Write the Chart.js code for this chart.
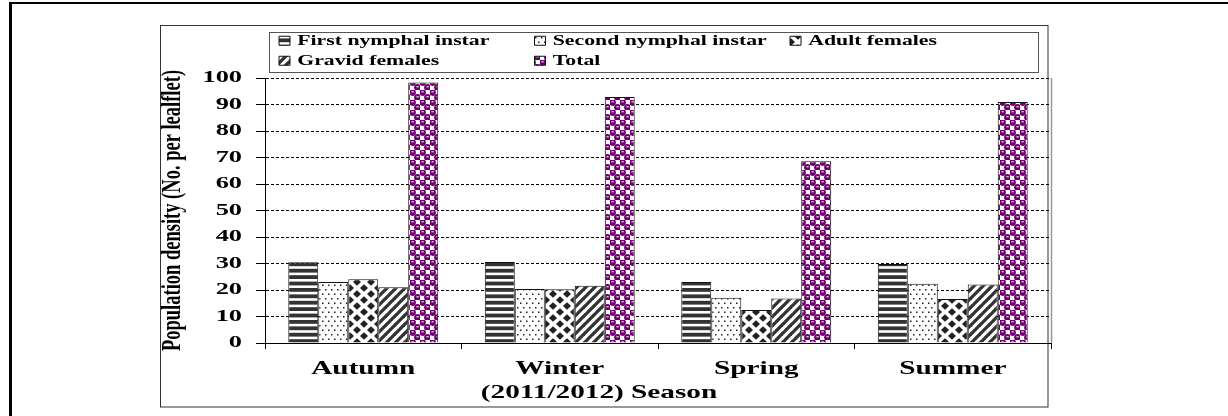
<!DOCTYPE html>
<html>
<head>
<meta charset="utf-8">
<script src="https://cdn.jsdelivr.net/npm/chart.js@4.4.1/dist/chart.umd.min.js"></script>
<style>
html,body{margin:0;padding:0;background:#fff;}
canvas{display:block;}
</style>
</head>
<body>
<canvas id="c" width="1228" height="416"></canvas>
<script>
// ---------- data ----------
const categories = ['Autumn', 'Winter', 'Spring', 'Summer'];
const seriesNames = ['First nymphal instar', 'Second nymphal instar', 'Adult females', 'Gravid females', 'Total'];
const firstNymphal = [30.5, 30.6, 23.0, 29.8];
const secondNymphal = [23.0, 20.4, 17.1, 22.4];
const adultFemales = [24.1, 20.3, 12.5, 16.6];
const gravidFemales = [21.0, 21.6, 16.8, 22.1];
const totalCounts = [98.3, 92.8, 68.6, 90.9];
const yTicks = [0, 10, 20, 30, 40, 50, 60, 70, 80, 90, 100];
const yTitle = 'Population density (No. per lealflet)';
const xTitle = '(2011/2012) Season';

// ---------- text styling helpers (horizontally widened serif text) ----------
const SERIF = '"Liberation Serif", "Times New Roman", serif';
const STRETCH = { '17': 1.55, '18.5': 1.5, '19.5': 1.5, '14.5': 1.5 };
const LEGEND_SIZE = '14.5';
const LEGEND_SLOT = 255.5;      // column pitch of legend entries
const LEGEND_PAD = 5.5;
const LEGEND_BOX_W = 11;
const LEGEND_TEXT_MIN = LEGEND_SLOT - LEGEND_PAD - LEGEND_BOX_W - 14.5 / 2;

const canvas = document.getElementById('c');
const ctx = canvas.getContext('2d');
function fontSizeOf(f) { const m = /([\d.]+)px/.exec(f); return m ? m[1] : ''; }
const origFill = ctx.fillText;
const origMeasure = ctx.measureText;
ctx.fillText = function (text, x, y, maxWidth) {
  const sx = STRETCH[fontSizeOf(this.font)] || 1;
  if (sx === 1) {
    return maxWidth === undefined ? origFill.call(this, text, x, y) : origFill.call(this, text, x, y, maxWidth);
  }
  const T = this.getTransform();
  const p = T.transformPoint(new DOMPoint(x, y));
  this.save();
  this.setTransform(new DOMMatrix().translate(p.x, p.y).scale(sx, 1).translate(-p.x, -p.y).multiply(T));
  origFill.call(this, text, x, y);
  this.restore();
};
ctx.measureText = function (text) {
  const m = origMeasure.call(this, text);
  const fs = fontSizeOf(this.font);
  const sx = STRETCH[fs] || 1;
  let w = m.width * sx;
  if (fs === LEGEND_SIZE) w = Math.max(w, LEGEND_TEXT_MIN);
  return {
    width: w,
    actualBoundingBoxAscent: m.actualBoundingBoxAscent,
    actualBoundingBoxDescent: m.actualBoundingBoxDescent,
    actualBoundingBoxLeft: m.actualBoundingBoxLeft * sx,
    actualBoundingBoxRight: m.actualBoundingBoxRight * sx
  };
};

// ---------- fill patterns ----------
function makePattern(w, h, draw) {
  const c = document.createElement('canvas');
  c.width = w; c.height = h;
  const g = c.getContext('2d');
  g.fillStyle = '#fff';
  g.fillRect(0, 0, w, h);
  draw(g, w, h);
  return ctx.createPattern(c, 'repeat');
}
const patStripes = makePattern(8, 32, (g, w) => {
  g.fillStyle = '#333';
  for (let k = 0; k < 5; k++) g.fillRect(0, k * 6.4, w, 3.8);
});
const patDots = makePattern(6, 9, (g) => {
  g.fillStyle = '#222';
  g.fillRect(1, 1, 1.5, 1.5);
  g.fillRect(4, 5.5, 1.5, 1.5);
});
const patDiamonds = makePattern(14, 12, (g, w, h) => {
  g.fillStyle = '#222';
  const hw = 4.0, hh = 3.8;
  const pts = [[w / 2, h / 2], [0, 0], [w, 0], [0, h], [w, h]];
  pts.forEach(([cx, cy]) => {
    g.beginPath();
    g.moveTo(cx, cy - hh); g.lineTo(cx + hw, cy); g.lineTo(cx, cy + hh); g.lineTo(cx - hw, cy);
    g.closePath(); g.fill();
  });
});
const patDiagonal = makePattern(9, 9, (g) => {
  g.strokeStyle = '#333';
  g.lineWidth = 3.3;
  for (let k = -1; k <= 1; k++) {
    g.beginPath(); g.moveTo(k * 9 - 1, 10); g.lineTo(k * 9 + 10, -1); g.stroke();
  }
});
const patTotal = makePattern(10, 10, (g) => {
  g.fillStyle = 'rgb(110,0,110)';
  [[2.5, 2.5], [7.5, 7.5]].forEach(([cx, cy]) => {
    g.beginPath(); g.arc(cx, cy, 3.4, 0, Math.PI * 2); g.fill();
  });
  g.fillStyle = '#fff';
  g.fillRect(1.4, 1.3, 2.4, 1);
  g.fillRect(6.4, 6.3, 2.4, 1);
});

const seriesValues = [firstNymphal, secondNymphal, adultFemales, gravidFemales, totalCounts];
const seriesFills = [patStripes, patDots, patDiamonds, patDiagonal, patTotal];
const datasets = seriesNames.map((name, i) => ({
  label: name,
  data: seriesValues[i],
  backgroundColor: seriesFills[i],
  borderColor: '#111',
  borderWidth: 1,
  categoryPercentage: 0.763,
  barPercentage: 1.0
}));

// ---------- decorative plugins ----------
const framePlugin = {
  id: 'frames',
  beforeDraw(chart) {
    const g = chart.ctx;
    g.save();
    g.fillStyle = '#fff';
    g.fillRect(0, 0, chart.width, chart.height);
    g.fillStyle = '#000';
    g.fillRect(9, 2, chart.width - 9, 2);      // outer top rule
    g.fillRect(9, 2, 3, chart.height - 2);     // outer left rule
    g.strokeStyle = '#333';
    g.lineWidth = 1;
    g.strokeRect(160.5, 25.5, 887.5, 381.5);   // inner chart frame
    g.restore();
  },
  afterLayout(chart) {
    const l = chart.legend;
    l.left += 8.5; l.right += 8.5;
  },
  beforeDatasetsDraw(chart) {
    const g = chart.ctx, a = chart.chartArea;
    g.save();
    g.strokeStyle = '#999';
    g.lineWidth = 1.5;
    g.beginPath();
    g.moveTo(a.right + 0.5, a.top);
    g.lineTo(a.right + 0.5, a.bottom);
    g.stroke();
    g.restore();
  },
  afterDraw(chart) {
    const g = chart.ctx, l = chart.legend, a = chart.chartArea;
    g.save();
    g.strokeStyle = '#555';
    g.lineWidth = 1;
    g.strokeRect(Math.round(l.left - 4.5) + 0.5, Math.round(l.top + 4) + 0.5, 769, 40);
    g.font = 'bold 19.5px ' + SERIF;
    g.fillStyle = '#000';
    g.textAlign = 'center';
    g.textBaseline = 'middle';
    g.fillText(xTitle, a.left + 334, a.bottom + 50);
    g.restore();
  }
};

new Chart(ctx, {
  type: 'bar',
  data: { labels: categories, datasets },
  options: {
    responsive: false,
    animation: false,
    devicePixelRatio: 1,
    layout: { padding: { left: 160, right: 177, top: 28, bottom: 23 } },
    plugins: {
      legend: {
        position: 'top',
        fullSize: false,
        align: 'start',
        labels: {
          boxWidth: LEGEND_BOX_W,
          boxHeight: 9,
          padding: LEGEND_PAD,
          color: '#000',
          font: { family: SERIF, size: 14.5, weight: 'bold' }
        }
      },
      tooltip: { enabled: false },
      title: { display: false }
    },
    scales: {
      x: {
        grid: { display: true, drawOnChartArea: false, offset: true, tickLength: 6, color: '#000', tickColor: '#000' },
        border: { display: true, color: '#000', width: 1 },
        ticks: { color: '#000', padding: 8, maxRotation: 0, autoSkip: false,
                 font: { family: SERIF, size: 19.5, weight: 'bold' } },
        afterFit(s) { s.height = 50; }
      },
      y: {
        min: 0, max: 100,
        afterBuildTicks(s) { s.ticks = yTicks.map(v => ({ value: v })); },
        grid: { color: '#000', lineWidth: 1, tickLength: 9, tickColor: '#000', tickBorderDash: [] },
        border: { display: true, color: '#000', width: 1, dash: [3, 2] },
        ticks: { color: '#000', padding: 14, font: { family: SERIF, size: 17, weight: 'bold' } },
        title: { display: true, text: yTitle, color: '#000', padding: { top: 1.5, bottom: 0 },
                 font: { family: SERIF, size: 18.5, weight: 'bold' } },
        afterFit(s) { s.width = 105; }
      }
    }
  },
  plugins: [framePlugin]
});
</script>
</body>
</html>
